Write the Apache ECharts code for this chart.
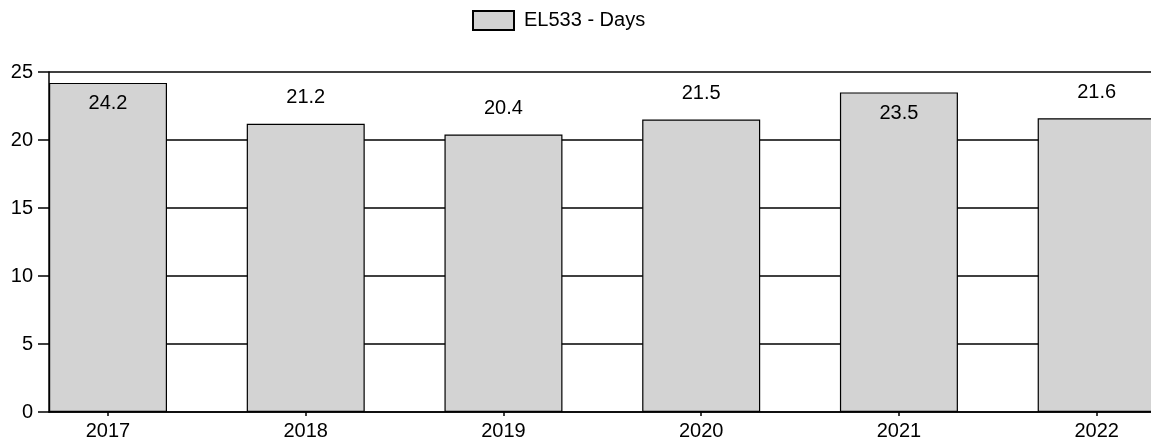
<!DOCTYPE html>
<html>
<head>
<meta charset="utf-8">
<script src="https://cdn.jsdelivr.net/npm/echarts@6/dist/echarts.min.js"></script>
<style>
html,body{margin:0;padding:0;background:#fff;}
#chart{width:1151px;height:447px;}
</style>
</head>
<body>
<div id="chart"></div>
<script>
var categories = ['2017', '2018', '2019', '2020', '2021', '2022'];
var seriesName = 'EL533 - Days';
var values = [24.2, 21.2, 20.4, 21.5, 23.5, 21.6];
var yTicks = [0, 5, 10, 15, 20, 25];

var FONT = 'Liberation Sans, Arial, sans-serif';
var chart = echarts.init(document.getElementById('chart'), null, {renderer: 'canvas'});

var barData = values.map(function (v) {
  var inside = v > 23;
  return {
    value: v,
    label: inside ? {position: 'insideTop', distance: 11} : {position: 'top', distance: 16}
  };
});

chart.setOption({
  animation: false,
  backgroundColor: '#fff',
  legend: {
    data: [seriesName],
    left: 467,
    top: 5,
    itemWidth: 41,
    itemHeight: 19,
    icon: 'rect',
    textStyle: {fontFamily: FONT, fontSize: 20, color: '#000', padding: [0, 0, 0, 5]}
  },
  grid: [
    {left: 49, width: 1102, top: 72, height: 340, containLabel: false, outerBoundsMode: 'none'},
    {left: 9.13, width: 1186.4, top: 72, height: 340, containLabel: false, outerBoundsMode: 'none'}
  ],
  xAxis: [
    {
      gridIndex: 0, type: 'value', min: 0, max: 1,
      axisLine: {show: true, onZero: false, lineStyle: {color: '#000', width: 1.5}},
      axisTick: {show: false}, axisLabel: {show: false}, splitLine: {show: false}
    },
    {
      gridIndex: 1, type: 'category', data: categories,
      axisLine: {show: false},
      axisTick: {show: true, alignWithLabel: true, length: 4, lineStyle: {color: '#000', width: 1.5}},
      axisLabel: {fontFamily: FONT, fontSize: 20, color: '#000', margin: 9},
      splitLine: {show: false}
    }
  ],
  yAxis: [
    {
      gridIndex: 0, type: 'value', min: yTicks[0], max: yTicks[yTicks.length - 1], interval: 5,
      axisLine: {show: true, lineStyle: {color: '#000', width: 1.5}},
      axisTick: {show: true, length: 11, lineStyle: {color: '#000', width: 1.5}},
      axisLabel: {fontFamily: FONT, fontSize: 20, color: '#000', margin: 16},
      splitLine: {show: true, lineStyle: {color: '#000', width: 1.5}}
    },
    {
      gridIndex: 1, type: 'value', min: yTicks[0], max: yTicks[yTicks.length - 1], interval: 5,
      show: false, splitLine: {show: false}
    }
  ],
  series: [
    {
      name: seriesName,
      type: 'bar',
      xAxisIndex: 1,
      yAxisIndex: 1,
      data: barData,
      barWidth: 118,
      itemStyle: {color: '#d3d3d3', borderColor: '#000', borderWidth: 1.2},
      label: {show: true, fontFamily: FONT, fontSize: 20, color: '#000',
        formatter: function (p) { return p.value.toFixed(1); }}
    }
  ]
});
</script>
</body>
</html>
